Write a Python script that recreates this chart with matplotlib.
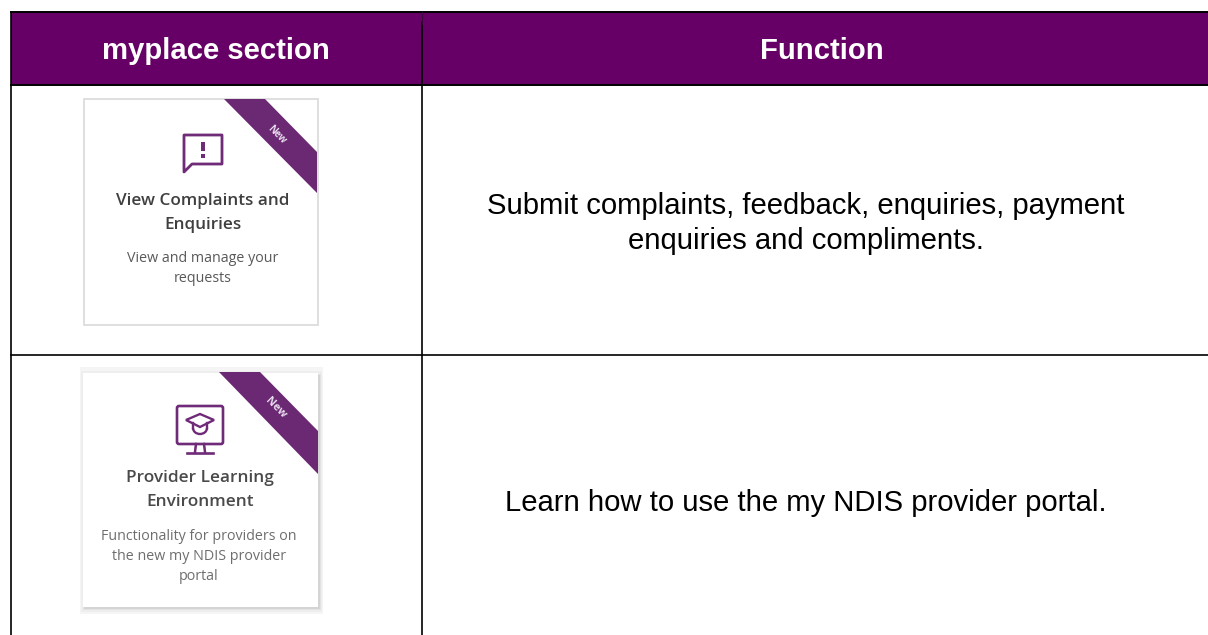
#!/usr/bin/env python3
import matplotlib
matplotlib.use('Agg')
import matplotlib.pyplot as plt
from matplotlib.patches import Polygon, Rectangle, FancyBboxPatch, Arc

# table text
headers = ['myplace section', 'Function']
functions = ['Submit complaints, feedback, enquiries, payment\nenquiries and compliments.',
             'Learn how to use the my NDIS provider portal.']
card_titles = [['View Complaints and', 'Enquiries'], ['Provider Learning', 'Environment']]
card_bodies = [['View and manage your', 'requests'],
               ['Functionality for providers on', 'the new my NDIS provider', 'portal']]
ribbon_label = 'New'

PURPLE = '#660066'
RIBBON = '#6b2873'
ICON = '#6f2b77'

fig = plt.figure(figsize=(12.08, 6.35), dpi=100)
ax = fig.add_axes([0, 0, 1, 1])
ax.set_xlim(0, 1208)
ax.set_ylim(635, 0)
ax.axis('off')

# 表头
ax.add_patch(Rectangle((11, 12), 1197, 73, fc=PURPLE, ec='none'))
ax.text(216, 51, headers[0], color='white', fontsize=21.1, fontweight='bold',
        family='Liberation Sans', ha='center', va='center')
ax.text(822, 51, headers[1], color='white', fontsize=21.1, fontweight='bold',
        family='Liberation Sans', ha='center', va='center')

# 表格线
ax.plot([11, 1208], [12, 12], color='black', lw=1.4)
ax.plot([11, 1208], [85, 85], color='black', lw=1.4)
ax.plot([11, 1208], [355, 355], color='black', lw=1.2)
ax.plot([11, 11], [12, 635], color='black', lw=1.2)
ax.plot([422, 422], [22, 635], color='black', lw=1.2)
ax.plot([421.5, 421.5], [12, 24], color='#3a0a3a', lw=0.8)

# 右列文字
ax.text(806, 223.5, functions[0], color='black', fontsize=21.1, family='Liberation Sans',
        ha='center', va='center', linespacing=1.3)
ax.text(806, 503, functions[1], color='black', fontsize=21.1, family='Liberation Sans',
        ha='center', va='center')

# 卡片1
ax.add_patch(Rectangle((84, 99), 234, 226, fc='white', ec='#dcdcdc', lw=1.3))
ax.add_patch(Polygon([(224, 99), (265, 99), (317, 152), (317, 193)], fc=RIBBON, ec='none'))
ax.text(277, 135, ribbon_label, color='#e8dcec', fontsize=7, rotation=-45,
        family='Open Sans', fontweight='bold', ha='center', va='center', rotation_mode='anchor')

# 对话框图标
ax.add_patch(Polygon([(184, 135), (222, 135), (222, 164), (192, 164), (184, 172)],
                     fc='none', ec=ICON, lw=2.0, joinstyle='round'))
ax.add_patch(Rectangle((201, 142), 3.6, 9, fc=ICON, ec='none'))
ax.add_patch(Rectangle((201, 154), 3.6, 4, fc=ICON, ec='none'))

for line, y in zip(card_titles[0], [201, 225]):
    ax.text(202.5, y, line, color='#3f3f3f', fontsize=12.3, fontweight='semibold',
            family='Open Sans', ha='center', va='center')
for line, y in zip(card_bodies[0], [258, 278]):
    ax.text(203, y, line, color='#595959', fontsize=10.3, family='Open Sans', ha='center', va='center')

# 卡片2 (shadow is a few stacked rectangles)
ax.add_patch(Rectangle((80, 367), 243, 247, fc='#f5f5f5', ec='none'))
ax.add_patch(Rectangle((81, 371), 241, 241, fc='#eeeeee', ec='none'))
ax.add_patch(Rectangle((83, 374), 238, 236, fc='#e2e2e2', ec='none'))
ax.add_patch(Rectangle((84, 375), 236, 234, fc='#d4d4d4', ec='none'))
ax.add_patch(Rectangle((83, 373), 235, 234, fc='white', ec='none'))
ax.add_patch(Polygon([(219, 372), (260, 372), (318, 431), (318, 474)], fc=RIBBON, ec='none'))
ax.text(276, 408, ribbon_label, color='#e8dcec', fontsize=8, rotation=-45,
        family='Open Sans', fontweight='bold', ha='center', va='center', rotation_mode='anchor')

# 显示器图标
ax.add_patch(FancyBboxPatch((177, 406), 46, 38, boxstyle='round,pad=0,rounding_size=2',
                            fc='none', ec=ICON, lw=1.9))
ax.plot([196, 195], [444, 452], color=ICON, lw=1.8)
ax.plot([204, 205], [444, 452], color=ICON, lw=1.8)
ax.plot([187, 213], [452.5, 452.5], color=ICON, lw=1.9)
ax.add_patch(Polygon([(186, 420), (200, 414), (214, 420), (200, 427)], fc='none', ec=ICON, lw=1.7))
ax.plot([193, 193], [423, 428], color=ICON, lw=1.7)
ax.plot([207, 207], [423, 428], color=ICON, lw=1.7)
ax.add_patch(Arc((200, 428), 14, 12, theta1=0, theta2=180, ec=ICON, lw=1.7))

for line, y in zip(card_titles[1], [478, 502]):
    ax.text(200, y, line, color='#4a4a4a', fontsize=12.4, fontweight='semibold',
            family='Open Sans', ha='center', va='center')
for line, y in zip(card_bodies[1], [536, 557, 577]):
    ax.text(199, y, line, color='#6e6e6e', fontsize=10.3, family='Open Sans', ha='center', va='center')

fig.savefig('out.png', dpi=100)
